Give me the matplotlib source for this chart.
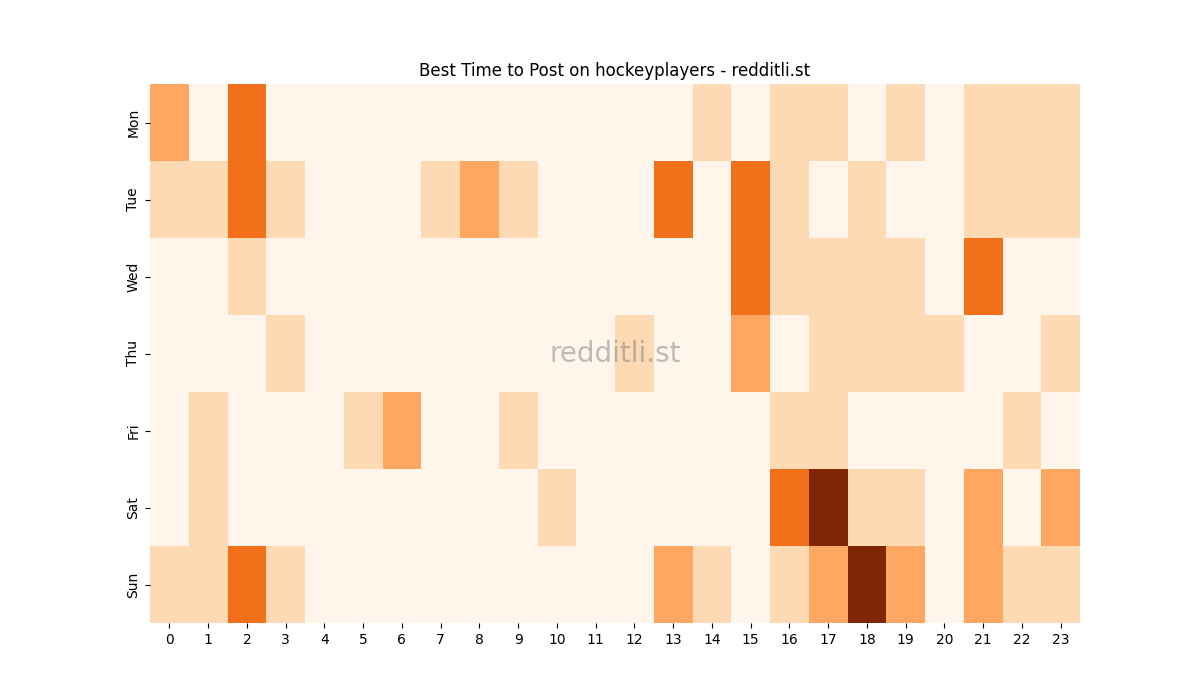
import numpy as np
import matplotlib
matplotlib.use("Agg")
import matplotlib.pyplot as plt
import seaborn as sns

days = ["Mon", "Tue", "Wed", "Thu", "Fri", "Sat", "Sun"]
hours = list(range(24))

mon = [2, 0, 3, 0, 0, 0, 0, 0, 0, 0, 0, 0, 0, 0, 1, 0, 1, 1, 0, 1, 0, 1, 1, 1]
tue = [1, 1, 3, 1, 0, 0, 0, 1, 2, 1, 0, 0, 0, 3, 0, 3, 1, 0, 1, 0, 0, 1, 1, 1]
wed = [0, 0, 1, 0, 0, 0, 0, 0, 0, 0, 0, 0, 0, 0, 0, 3, 1, 1, 1, 1, 0, 3, 0, 0]
thu = [0, 0, 0, 1, 0, 0, 0, 0, 0, 0, 0, 0, 1, 0, 0, 2, 0, 1, 1, 1, 1, 0, 0, 1]
fri = [0, 1, 0, 0, 0, 1, 2, 0, 0, 1, 0, 0, 0, 0, 0, 0, 1, 1, 0, 0, 0, 0, 1, 0]
sat = [0, 1, 0, 0, 0, 0, 0, 0, 0, 0, 1, 0, 0, 0, 0, 0, 3, 5, 1, 1, 0, 2, 0, 2]
sun = [1, 1, 3, 1, 0, 0, 0, 0, 0, 0, 0, 0, 0, 2, 1, 0, 1, 2, 5, 2, 0, 2, 1, 1]

data = np.array([mon, tue, wed, thu, fri, sat, sun])

fig, ax = plt.subplots(figsize=(12, 7), dpi=100)
sns.heatmap(data, cmap="Oranges", cbar=False, ax=ax,
            xticklabels=hours, yticklabels=days)
ax.set_title("Best Time to Post on hockeyplayers - redditli.st")
ax.text(0.5, 0.5, "redditli.st", transform=ax.transAxes, ha="center",
        va="center", fontsize=20, color="gray", alpha=0.5)
plt.savefig("out.png")
